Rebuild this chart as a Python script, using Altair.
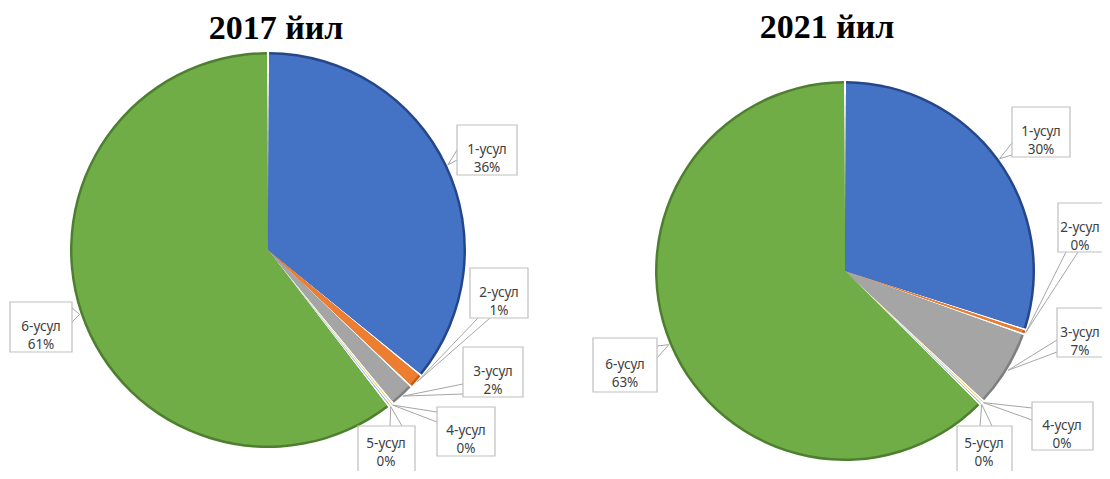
import math
import altair as alt
import pandas as pd

# ---------------- data ----------------
METHODS = ["1-усул", "2-усул", "3-усул", "4-усул", "5-усул", "6-усул"]
YEARS = ["2017", "2021"]
TITLES = ["2017 йил", "2021 йил"]
SHARE_2017 = [36.0, 1.2, 2.0, 0.2, 0.2, 60.6]
SHARE_2021 = [30.0, 0.4, 6.6, 0.2, 0.2, 62.6]
SHARES = {"2017": SHARE_2017, "2021": SHARE_2021}

# ---------------- styles / layout ----------------
FILL = ["#4472C4", "#ED7D31", "#A5A5A5", "#FFC000", "#5B9BD5", "#70AD47"]
RIM = ["#25478A", "#C55A11", "#7F7F7F", "#BF9000", "#2E75B6", "#4E7F30"]
PIE = {"2017": dict(cx=268, cy=250, r=198), "2021": dict(cx=845, cy=271, r=190)}
TITLE_POS = {"2017": (276, 29), "2021": (827, 28)}
# callout boxes: x1, x2, y1, y2, attach point a (x, y), attach point b (x, y), text x, text y
BOXES = {
    "2017": [
        (457, 517, 125, 175, 457, 150, 457, 160, 487, 150),
        (470, 528, 268, 318, 478, 318, 490, 318, 499, 293),
        (463, 523, 347, 397, 463, 384, 463, 394, 493, 372),
        (437, 495, 407, 456, 437, 412, 437, 422, 466, 431),
        (358, 415, 426, 490, 390, 426, 402, 426, 386, 444),
        (10, 72, 302, 352, 72, 308, 72, 322, 41, 327),
    ],
    "2021": [
        (1012, 1070, 107, 157, 1012, 143, 1012, 155, 1041, 132),
        (1058, 1120, 203, 252, 1066, 252, 1078, 252, 1080, 228),
        (1057, 1120, 308, 357, 1057, 340, 1057, 352, 1080, 333),
        (1032, 1093, 402, 450, 1032, 408, 1032, 420, 1062, 426),
        (957, 1012, 426, 490, 980, 426, 992, 426, 984, 444),
        (593, 657, 338, 392, 657, 346, 657, 358, 625, 365),
    ],
}

W, H = 1102, 471

# ---------------- tables ----------------
pie_rows, box_rows, ptr_rows = [], [], []
for yr in YEARS:
    vals = SHARES[yr]
    tot = sum(vals)
    cum = 0.0
    p = PIE[yr]
    for i, (m, v) in enumerate(zip(METHODS, vals)):
        pie_rows.append(dict(year=yr, idx=i, method=m, value=v))
        mid = (cum + v / 2) / tot
        cum += v
        ang = 2 * math.pi * mid
        tx = p["cx"] + (p["r"] + 1) * math.sin(ang)
        ty = p["cy"] - (p["r"] + 1) * math.cos(ang)
        x1, x2, y1, y2, ax, ay, bx, by, lx, ly = BOXES[yr][i]
        box_rows.append(dict(x1=x1, x2=x2, y1=y1, y2=y2, tx=lx, ty=ly,
                             label=f"{m}\n{round(v)}%"))
        ptr_rows.append(dict(px=tx, py=ty, qx=ax, qy=ay))
        ptr_rows.append(dict(px=tx, py=ty, qx=bx, qy=by))

pie_df = pd.DataFrame(pie_rows)
box_df = pd.DataFrame(box_rows)
ptr_df = pd.DataFrame(ptr_rows)
title_df = pd.DataFrame({"t": TITLES,
                         "x": [TITLE_POS[y][0] for y in YEARS],
                         "y": [TITLE_POS[y][1] for y in YEARS]})

layers = []
for yr in YEARS:
    p = PIE[yr]
    base = alt.Chart(pie_df).transform_filter(alt.datum.year == yr)
    theta = alt.Theta("value:Q", stack="normalize", scale=alt.Scale(domain=[0, 1]))
    rim = base.mark_arc(radius=p["r"], padAngle=0.011).encode(
        theta=theta,
        order=alt.Order("idx:Q"),
        fill=alt.Fill("method:N", scale=alt.Scale(domain=METHODS, range=RIM), legend=None),
        x=alt.value(p["cx"]), y=alt.value(p["cy"]),
    )
    body = base.mark_arc(radius=p["r"] - 2.5, padAngle=0.011).encode(
        theta=theta,
        order=alt.Order("idx:Q"),
        color=alt.Color("method:N", scale=alt.Scale(domain=METHODS, range=FILL), legend=None),
        x=alt.value(p["cx"]), y=alt.value(p["cy"]),
    )
    layers += [rim, body]

pointers = alt.Chart(ptr_df).mark_rule(color="#a6a6a6", strokeWidth=1).encode(
    x=alt.X("px:Q", scale=None), y=alt.Y("py:Q", scale=None),
    x2="qx:Q", y2="qy:Q",
)
boxes = alt.Chart(box_df).mark_rect(fill="white", stroke="#bfbfbf", strokeWidth=1.2).encode(
    x=alt.X("x1:Q", scale=None), x2="x2:Q",
    y=alt.Y("y1:Q", scale=None), y2="y2:Q",
)
texts = alt.Chart(box_df).mark_text(
    align="center", baseline="middle", lineBreak="\n", lineHeight=18,
    font="Noto Sans", fontSize=13.5, color="#404040",
).encode(
    x=alt.X("tx:Q", scale=None), y=alt.Y("ty:Q", scale=None), text="label:N",
)
titles = alt.Chart(title_df).mark_text(
    align="center", baseline="middle", font="Liberation Serif",
    fontWeight="bold", fontSize=34, color="black",
).encode(
    x=alt.X("x:Q", scale=None), y=alt.Y("y:Q", scale=None), text="t:N",
)

chart = alt.layer(*layers, pointers, boxes, texts, titles).properties(
    width=W, height=H,
    padding={"left": -8, "top": -8, "right": 0, "bottom": 0},
    autosize=alt.AutoSizeParams(type="none"),
).configure_view(stroke=None).configure_axis(disable=True)

chart.save("out.html", embed_options={"renderer": "svg", "actions": False})
